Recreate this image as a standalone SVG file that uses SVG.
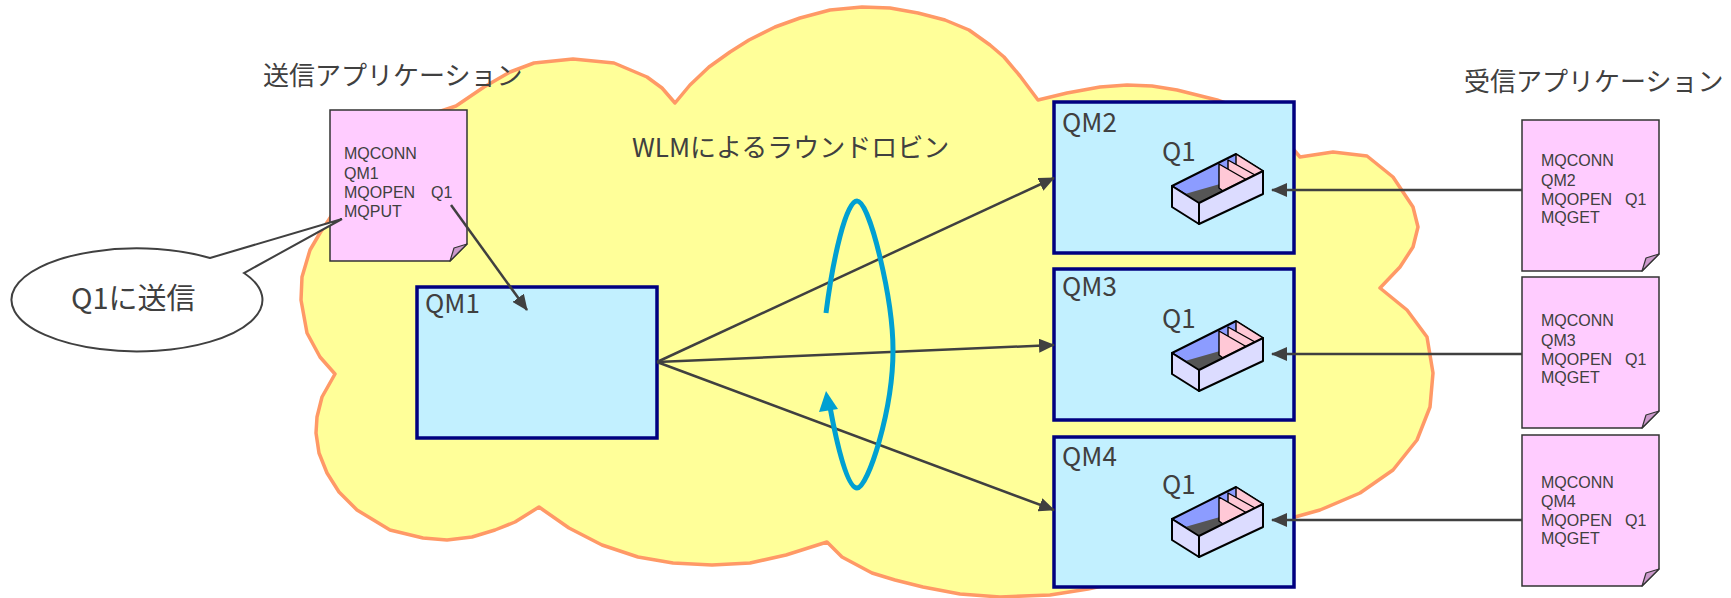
<svg xmlns="http://www.w3.org/2000/svg" width="1731" height="598" viewBox="0 0 1731 598">
  <style>
    .cloud { fill: #FFFF99; stroke: #FF9966; stroke-width: 3.5; stroke-linejoin: round; }
    .qm { fill: #C2F0FF; stroke: #000080; stroke-width: 3.5; }
    .doc { fill: #FFCCFF; stroke: #333333; stroke-width: 1.5; }
    .fold { fill: #CC99CC; stroke: #333333; stroke-width: 1.2; stroke-linejoin: round; }
    .txt { font-family: "Noto Sans CJK JP", "Noto Sans", sans-serif; fill: #404040; }
    .title { font-size: 26px; }
    .code { font-family: "Liberation Sans", Arial, sans-serif; font-size: 16px; fill: #404040; }
    .conn { fill: none; stroke: #404040; stroke-width: 2.5; marker-end: url(#arrow); }
    .tray-line { stroke: #000000; stroke-width: 2; stroke-linejoin: round; }
    .panel { fill: #FFC8D6; stroke: #000000; stroke-width: 1.4; stroke-linejoin: round; }
    .rr { fill: none; stroke: #00A0D2; stroke-width: 5; stroke-linecap: butt; }
  </style>
  <defs>
    <marker id="arrow" viewBox="0 0 16 14" refX="15" refY="7" markerWidth="16" markerHeight="14" markerUnits="userSpaceOnUse" orient="auto">
      <path d="M0,0 L16,7 L0,14 z" fill="#404040"/>
    </marker>
    <!-- program listing sheet with a folded corner -->
    <g id="sheet">
      <path class="doc" d="M0,0 H137 V134 L120,151 H0 Z"/>
      <polygon class="fold" points="120,151 124,138 137,134"/>
    </g>
    <!-- queue tray icon -->
    <g id="tray">
      <polygon points="0,0 27,17 91,-15 64,-32" fill="#8C9CFF" class="tray-line"/>
      <polygon points="13,8 48,-2 51,5 27,17" fill="#555555"/>
      <polygon class="panel" points="64,-32 91,-15 70,-4 64,-8"/>
      <polygon class="panel" points="56,-26 83,-11 60,0.5 56,-2"/>
      <polygon class="panel" points="47,-22 74,-6.5 51,5 47,2"/>
      <polygon points="0,0 27,17 27,38 0,21" fill="#DCDCFF" class="tray-line"/>
      <polygon points="27,17 91,-15 91,8 27,38" fill="#DCDCFF" class="tray-line"/>
    </g>
  </defs>

  <!-- cluster cloud -->
  <g id="cluster">
    <path class="cloud" d="M335,374 L320,357 L307,333 L301,300 L302,277 L310,250 L320,233 L330,218 L345,190 L365,160 L390,136 L420,118 L456,106 L484,87 L510,72 L534,63 L573,59 L614,63 L647,77 L662,88 L675,103
      L690,85 L709,67 L730,52 L749,40 L775,27 L800,18 L830,10 L862,7 L890,8 L918,13 L945,20 L969,30 L990,45 L1004,57 L1020,76 L1038,100
      L1067,93 L1100,87 L1127,85 L1152,86 L1177,90 L1217,100 L1245,110 L1270,125 L1288,143 L1300,157
      L1333,152 L1367,156 L1393,177 L1413,207 L1418,227 L1413,247 L1400,267 L1380,288
      L1407,310 L1427,337 L1433,373 L1430,407 L1417,440 L1393,470 L1360,493 L1320,510 L1295,517
      L1260,530 L1200,560 L1140,578 L1088,589 L1050,595 L1000,597 L960,594 L923,587 L895,580 L872,573 L842,557 L827,542
      L786,555 L750,563 L712,565 L673,563 L638,557 L602,545 L569,528 L539,507
      L515,522 L495,530 L472,537 L447,540 L423,538 L390,530 L357,510 L339,492 L327,473 L319,453 L316,433 L317,417 L322,397 Z"/>
    <text class="txt title" x="632" y="157">WLMによるラウンドロビン</text>
  </g>

  <!-- queue managers -->
  <g id="qm1">
    <rect class="qm" x="417" y="287" width="240" height="151"/>
    <text class="txt title" x="425" y="313">QM1</text>
  </g>
  <g id="qm2">
    <rect class="qm" x="1054" y="102" width="240" height="151"/>
    <text class="txt title" x="1062" y="132">QM2</text>
    <text class="txt title" x="1162" y="161">Q1</text>
    <use href="#tray" transform="translate(1172,186)"/>
  </g>
  <g id="qm3">
    <rect class="qm" x="1054" y="269" width="240" height="151"/>
    <text class="txt title" x="1062" y="296">QM3</text>
    <text class="txt title" x="1162" y="328">Q1</text>
    <use href="#tray" transform="translate(1172,353)"/>
  </g>
  <g id="qm4">
    <rect class="qm" x="1054" y="437" width="240" height="150"/>
    <text class="txt title" x="1062" y="466">QM4</text>
    <text class="txt title" x="1162" y="494">Q1</text>
    <use href="#tray" transform="translate(1172,519)"/>
  </g>

  <!-- sending application -->
  <g id="sender">
    <text class="txt title" x="263" y="85">送信アプリケーション</text>
    <use href="#sheet" transform="translate(330,110)"/>
    <text class="code" x="344" y="159">MQCONN</text>
    <text class="code" x="344" y="179">QM1</text>
    <text class="code" x="344" y="198">MQOPEN<tspan x="431">Q1</tspan></text>
    <text class="code" x="344" y="217">MQPUT</text>
  </g>

  <!-- receiving applications -->
  <g id="receivers">
    <text class="txt title" x="1464" y="91">受信アプリケーション</text>
  </g>
  <g id="recv-qm2">
    <use href="#sheet" transform="translate(1522,120)"/>
    <text class="code" x="1541" y="166">MQCONN</text>
    <text class="code" x="1541" y="186">QM2</text>
    <text class="code" x="1541" y="205">MQOPEN<tspan x="1625">Q1</tspan></text>
    <text class="code" x="1541" y="223">MQGET</text>
  </g>
  <g id="recv-qm3">
    <use href="#sheet" transform="translate(1522,277)"/>
    <text class="code" x="1541" y="326">MQCONN</text>
    <text class="code" x="1541" y="346">QM3</text>
    <text class="code" x="1541" y="365">MQOPEN<tspan x="1625">Q1</tspan></text>
    <text class="code" x="1541" y="383">MQGET</text>
  </g>
  <g id="recv-qm4">
    <use href="#sheet" transform="translate(1522,435)"/>
    <text class="code" x="1541" y="488">MQCONN</text>
    <text class="code" x="1541" y="507">QM4</text>
    <text class="code" x="1541" y="526">MQOPEN<tspan x="1625">Q1</tspan></text>
    <text class="code" x="1541" y="544">MQGET</text>
  </g>

  <!-- message flows -->
  <g id="connectors">
    <line class="conn" x1="451" y1="205" x2="527" y2="310"/>
    <line class="conn" x1="657" y1="362" x2="1054" y2="178"/>
    <line class="conn" x1="657" y1="362" x2="1054" y2="345"/>
    <line class="conn" x1="657" y1="362" x2="1054" y2="510"/>
    <line class="conn" x1="1522" y1="190" x2="1272" y2="190"/>
    <line class="conn" x1="1522" y1="354" x2="1272" y2="354"/>
    <line class="conn" x1="1522" y1="520" x2="1272" y2="520"/>
  </g>

  <!-- round-robin loop -->
  <g id="round-robin">
    <path class="rr" d="M826,313 C833,258 846,201 857,201 C870,201 893,300 893,350 C893,410 868,488 857,488 C847,488 837,445 830,407"/>
    <polygon points="826,391 819,412 838,409" fill="#00A0D2"/>
  </g>

  <!-- callout -->
  <g id="callout">
    <path d="M210,258 L342,219 L244,273 A125.5,51.5 0 1 1 210,258 Z" fill="#FFFFFF" stroke="#404040" stroke-width="2" stroke-linejoin="miter"/>
    <text class="txt" x="71" y="309" font-size="29">Q1に送信</text>
  </g>
</svg>
